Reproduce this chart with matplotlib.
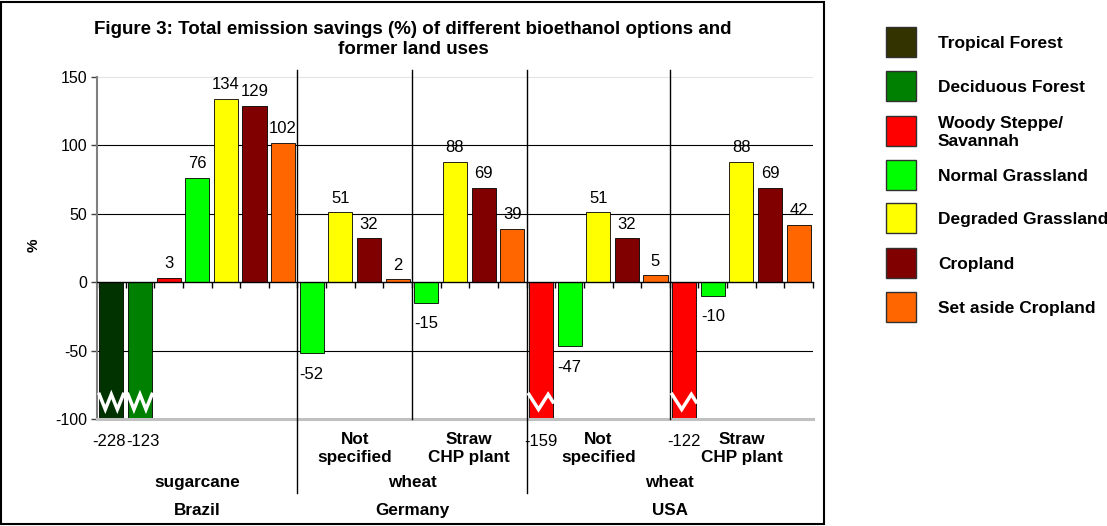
import numpy as np
import matplotlib
matplotlib.use("Agg")
import matplotlib.pyplot as plt
import matplotlib.patches as mpatches
import matplotlib.transforms as mtransforms

plt.rcParams['font.family'] = ['Liberation Sans', 'DejaVu Sans']
plt.rcParams['axes.unicode_minus'] = False

# land uses (legend order) and their colours
land_uses = ["Tropical Forest", "Deciduous Forest", "Woody Steppe/\nSavannah",
             "Normal Grassland", "Degraded Grassland", "Cropland", "Set aside Cropland"]
bar_colors = ["#003300", "#008000", "#ff0000", "#00ff00", "#ffff00", "#800000", "#ff6600"]
legend_colors = ["#333300", "#008000", "#ff0000", "#00ff00", "#ffff00", "#800000", "#ff6600"]

# groups: country, feedstock, option
countries = ["Brazil", "Germany", "Germany", "USA", "USA"]
feedstocks = ["sugarcane", "wheat", "wheat", "wheat", "wheat"]
options = ["", "Not\nspecified", "Straw\nCHP plant", "Not\nspecified", "Straw\nCHP plant"]

# land-use index and value for each bar of each group
group_uses = [
    [0, 1, 2, 3, 4, 5, 6],
    [3, 4, 5, 6],
    [3, 4, 5, 6],
    [2, 3, 4, 5, 6],
    [2, 3, 4, 5, 6],
]
group_values = [
    [-228, -123, 3, 76, 134, 129, 102],
    [-52, 51, 32, 2],
    [-15, 88, 69, 39],
    [-159, -47, 51, 32, 5],
    [-122, -10, 88, 69, 42],
]

YMIN, YMAX = -100, 155

fig = plt.figure(figsize=(11.07, 5.26), dpi=100)
W, H = 1107, 526
ax = fig.add_axes([97 / W, 1 - 419 / H, 716 / W, 349 / H])

# chart area frame
fig.patches.append(mpatches.Rectangle((1 / W, 2 / H), 823 / W, 522 / H, transform=fig.transFigure,
                                      fill=False, edgecolor="black", linewidth=1.5))

fig.text(413 / W, 1 - 39.5 / H,
         "Figure 3: Total emission savings (%) of different bioethanol options and\nformer land uses",
         ha="center", va="center", fontsize=13.5, fontweight="bold", linespacing=1.3)

# gridlines
ax.axhline(150, color="#e4e4e4", linewidth=0.8, zorder=0)
for g in [100, 50, -50]:
    ax.axhline(g, color="black", linewidth=0.8, zorder=0)
ax.axhline(-100, color="#c0c0c0", linewidth=2.2, zorder=3, clip_on=False)

btrans = mtransforms.blended_transform_factory(ax.transData, ax.transAxes)

slot = 0
group_bounds = []
for gi, (uses, vals) in enumerate(zip(group_uses, group_values)):
    start = slot
    for bi, (u, v) in enumerate(zip(uses, vals)):
        x = slot + 0.5
        ax.bar(x, v, width=0.84, color=bar_colors[u], edgecolor="black", linewidth=0.6, zorder=2)
        if v >= 0:
            ax.annotate(f"{v}", (x, v), xytext=(0, 7), textcoords="offset points",
                        ha="center", va="baseline", fontsize=12)
        elif v >= YMIN:
            ax.annotate(f"{v}", (x, v), xytext=(0, -9.5), textcoords="offset points",
                        ha="center", va="top", fontsize=12, annotation_clip=False)
        else:
            # clipped bar: label under the axis floor, pushed apart from a clipped neighbour
            dx = 0
            if bi + 1 < len(vals) and vals[bi + 1] < YMIN:
                dx -= 2
            if bi > 0 and vals[bi - 1] < YMIN:
                dx += 2
            ax.annotate(f"{v}", (x, YMIN), xytext=(dx, -10.5), textcoords="offset points",
                        ha="center", va="top", fontsize=12, annotation_clip=False)
            # axis break mark
            teeth = 2 if countries[gi] == "Brazil" else 1.25
            n = int(np.ceil(teeth * 2))
            xs = x - 0.42 + np.arange(n + 1) * (0.84 / (teeth * 2))
            ys = np.where(np.arange(n + 1) % 2 == 0, -82, -93).astype(float)
            if xs[-1] > x + 0.42:
                frac = (x + 0.42 - xs[-2]) / (xs[-1] - xs[-2])
                ys[-1] = ys[-2] + (ys[-1] - ys[-2]) * frac
                xs[-1] = x + 0.42
            ax.plot(xs, ys, color="white", linewidth=2.5, zorder=4, solid_joinstyle="miter")
        slot += 1
    group_bounds.append((start, slot))

ax.set_xlim(0, slot)
ax.set_ylim(YMIN, YMAX)

# group dividers
for gi in range(1, len(group_bounds)):
    xb = group_bounds[gi][0]
    if countries[gi] != countries[gi - 1]:
        ax.plot([xb, xb], [1.0, -0.212], transform=btrans, color="black", linewidth=1,
                clip_on=False, zorder=3)
    else:
        ax.plot([xb, xb], [1.0, 0.0], transform=btrans, color="black", linewidth=1,
                clip_on=False, zorder=3)

# multi-level category labels
for gi, (s, e) in enumerate(group_bounds):
    if options[gi]:
        ax.text((s + e) / 2, -0.085, options[gi], transform=btrans, ha="center", va="center",
                fontsize=12.3, fontweight="bold", linespacing=1.3)
feed_spans = {}
country_spans = {}
for gi, (s, e) in enumerate(group_bounds):
    k = (countries[gi], feedstocks[gi])
    feed_spans[k] = (min(feed_spans.get(k, (s, e))[0], s), max(feed_spans.get(k, (s, e))[1], e))
    c = countries[gi]
    country_spans[c] = (min(country_spans.get(c, (s, e))[0], s), max(country_spans.get(c, (s, e))[1], e))
for (c, f), (s, e) in feed_spans.items():
    ax.text((s + e) / 2, -0.183, f, transform=btrans, ha="center", va="center",
            fontsize=12.3, fontweight="bold")
for c, (s, e) in country_spans.items():
    ax.text((s + e) / 2, -0.261, c, transform=btrans, ha="center", va="center",
            fontsize=12.3, fontweight="bold")

# axes styling
for sp in ["top", "right"]:
    ax.spines[sp].set_visible(False)
ax.spines["left"].set_color("#808080")
ax.spines["left"].set_linewidth(1.5)
ax.spines["left"].set_bounds(-100, 150)
ax.spines["bottom"].set_position(("data", 0))
ax.spines["bottom"].set_color("black")
ax.spines["bottom"].set_linewidth(1)
ax.set_xticks(np.arange(0, slot + 1))
ax.set_xticklabels([])
ax.tick_params(axis="x", direction="out", length=4, width=1, color="black")
ax.set_yticks([-100, -50, 0, 50, 100, 150])
ax.tick_params(axis="y", direction="out", length=4, width=1, color="#404040", labelsize=11.5, pad=3)
ax.set_ylabel("%", fontsize=11, fontweight="bold")
ax.yaxis.set_label_coords(-56 / 716, (419 - 245) / 349)

# legend
rows = [42, 86, 131, 175, 218, 263, 307]
for name, col, yc in zip(land_uses, legend_colors, rows):
    fig.patches.append(mpatches.Rectangle((886 / W, 1 - (yc + 15) / H), 30 / W, 30 / H,
                                          transform=fig.transFigure, facecolor=col,
                                          edgecolor="#303030", linewidth=1))
    fig.text(938 / W, 1 - (yc + 1.5) / H, name, ha="left", va="center", fontsize=12.5,
             fontweight="bold", linespacing=1.3)

fig.savefig("out.png", dpi=100)
